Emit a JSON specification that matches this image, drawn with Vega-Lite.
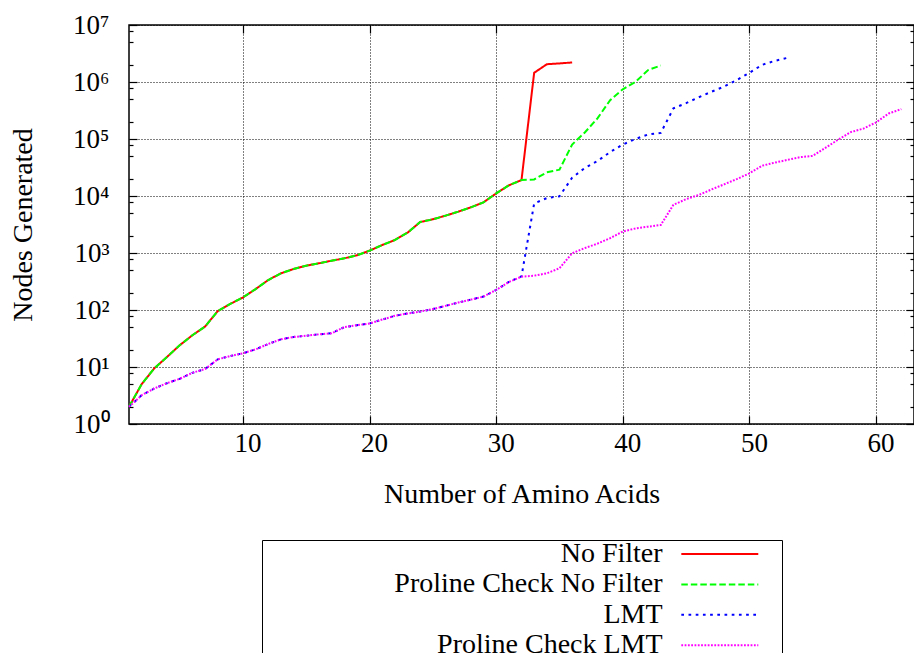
{
  "$schema": "https://vega.github.io/schema/vega-lite/v6.json",
  "width": 785,
  "height": 399,
  "autosize": "none",
  "padding": {"left": 129, "top": 25, "right": 0, "bottom": 229},
  "background": "white",
  "config": {
    "font": "Liberation Serif",
    "view": {"stroke": "black", "strokeWidth": 1.5},
    "axis": {
      "labelFont": "Liberation Serif",
      "titleFont": "Liberation Serif",
      "labelFontSize": 27,
      "titleFontSize": 28,
      "labelColor": "black",
      "titleColor": "black",
      "titleFontWeight": "normal",
      "domain": false,
      "tickColor": "black",
      "tickWidth": 1.2,
      "labelOverlap": false,
      "labelFlush": false
    }
  },
  "data": {
    "values": [
      {"series": "No Filter", "n": 1, "nodes": 2},
      {"series": "No Filter", "n": 2, "nodes": 5},
      {"series": "No Filter", "n": 3, "nodes": 9.5},
      {"series": "No Filter", "n": 4, "nodes": 15},
      {"series": "No Filter", "n": 5, "nodes": 24},
      {"series": "No Filter", "n": 6, "nodes": 36},
      {"series": "No Filter", "n": 7, "nodes": 51},
      {"series": "No Filter", "n": 8, "nodes": 95},
      {"series": "No Filter", "n": 9, "nodes": 128},
      {"series": "No Filter", "n": 10, "nodes": 166},
      {"series": "No Filter", "n": 11, "nodes": 233},
      {"series": "No Filter", "n": 12, "nodes": 336},
      {"series": "No Filter", "n": 13, "nodes": 440},
      {"series": "No Filter", "n": 14, "nodes": 524},
      {"series": "No Filter", "n": 15, "nodes": 600},
      {"series": "No Filter", "n": 16, "nodes": 660},
      {"series": "No Filter", "n": 17, "nodes": 733},
      {"series": "No Filter", "n": 18, "nodes": 806},
      {"series": "No Filter", "n": 19, "nodes": 910},
      {"series": "No Filter", "n": 20, "nodes": 1100},
      {"series": "No Filter", "n": 21, "nodes": 1380},
      {"series": "No Filter", "n": 22, "nodes": 1690},
      {"series": "No Filter", "n": 23, "nodes": 2270},
      {"series": "No Filter", "n": 24, "nodes": 3500},
      {"series": "No Filter", "n": 25, "nodes": 3900},
      {"series": "No Filter", "n": 26, "nodes": 4520},
      {"series": "No Filter", "n": 27, "nodes": 5310},
      {"series": "No Filter", "n": 28, "nodes": 6330},
      {"series": "No Filter", "n": 29, "nodes": 7750},
      {"series": "No Filter", "n": 30, "nodes": 11100},
      {"series": "No Filter", "n": 31, "nodes": 15400},
      {"series": "No Filter", "n": 32, "nodes": 19000},
      {"series": "No Filter", "n": 33, "nodes": 1450000},
      {"series": "No Filter", "n": 34, "nodes": 2050000},
      {"series": "No Filter", "n": 35, "nodes": 2120000},
      {"series": "No Filter", "n": 36, "nodes": 2200000},
      {"series": "Proline Check No Filter", "n": 1, "nodes": 2},
      {"series": "Proline Check No Filter", "n": 2, "nodes": 5},
      {"series": "Proline Check No Filter", "n": 3, "nodes": 9.5},
      {"series": "Proline Check No Filter", "n": 4, "nodes": 15},
      {"series": "Proline Check No Filter", "n": 5, "nodes": 24},
      {"series": "Proline Check No Filter", "n": 6, "nodes": 36},
      {"series": "Proline Check No Filter", "n": 7, "nodes": 51},
      {"series": "Proline Check No Filter", "n": 8, "nodes": 95},
      {"series": "Proline Check No Filter", "n": 9, "nodes": 128},
      {"series": "Proline Check No Filter", "n": 10, "nodes": 166},
      {"series": "Proline Check No Filter", "n": 11, "nodes": 233},
      {"series": "Proline Check No Filter", "n": 12, "nodes": 336},
      {"series": "Proline Check No Filter", "n": 13, "nodes": 440},
      {"series": "Proline Check No Filter", "n": 14, "nodes": 524},
      {"series": "Proline Check No Filter", "n": 15, "nodes": 600},
      {"series": "Proline Check No Filter", "n": 16, "nodes": 660},
      {"series": "Proline Check No Filter", "n": 17, "nodes": 733},
      {"series": "Proline Check No Filter", "n": 18, "nodes": 806},
      {"series": "Proline Check No Filter", "n": 19, "nodes": 910},
      {"series": "Proline Check No Filter", "n": 20, "nodes": 1100},
      {"series": "Proline Check No Filter", "n": 21, "nodes": 1380},
      {"series": "Proline Check No Filter", "n": 22, "nodes": 1690},
      {"series": "Proline Check No Filter", "n": 23, "nodes": 2270},
      {"series": "Proline Check No Filter", "n": 24, "nodes": 3500},
      {"series": "Proline Check No Filter", "n": 25, "nodes": 3900},
      {"series": "Proline Check No Filter", "n": 26, "nodes": 4520},
      {"series": "Proline Check No Filter", "n": 27, "nodes": 5310},
      {"series": "Proline Check No Filter", "n": 28, "nodes": 6330},
      {"series": "Proline Check No Filter", "n": 29, "nodes": 7750},
      {"series": "Proline Check No Filter", "n": 30, "nodes": 11100},
      {"series": "Proline Check No Filter", "n": 31, "nodes": 15400},
      {"series": "Proline Check No Filter", "n": 32, "nodes": 19000},
      {"series": "Proline Check No Filter", "n": 33, "nodes": 19500},
      {"series": "Proline Check No Filter", "n": 34, "nodes": 26000},
      {"series": "Proline Check No Filter", "n": 35, "nodes": 29000},
      {"series": "Proline Check No Filter", "n": 36, "nodes": 80000},
      {"series": "Proline Check No Filter", "n": 37, "nodes": 130000},
      {"series": "Proline Check No Filter", "n": 38, "nodes": 230000},
      {"series": "Proline Check No Filter", "n": 39, "nodes": 480000},
      {"series": "Proline Check No Filter", "n": 40, "nodes": 745000},
      {"series": "Proline Check No Filter", "n": 41, "nodes": 1000000},
      {"series": "Proline Check No Filter", "n": 42, "nodes": 1620000},
      {"series": "Proline Check No Filter", "n": 43, "nodes": 1950000},
      {"series": "LMT", "n": 1, "nodes": 2},
      {"series": "LMT", "n": 2, "nodes": 3.2},
      {"series": "LMT", "n": 3, "nodes": 4.2},
      {"series": "LMT", "n": 4, "nodes": 5.2},
      {"series": "LMT", "n": 5, "nodes": 6.2},
      {"series": "LMT", "n": 6, "nodes": 7.9},
      {"series": "LMT", "n": 7, "nodes": 9.2},
      {"series": "LMT", "n": 8, "nodes": 13.6},
      {"series": "LMT", "n": 9, "nodes": 15.6},
      {"series": "LMT", "n": 10, "nodes": 17.4},
      {"series": "LMT", "n": 11, "nodes": 20.4},
      {"series": "LMT", "n": 12, "nodes": 25.3},
      {"series": "LMT", "n": 13, "nodes": 30.6},
      {"series": "LMT", "n": 14, "nodes": 33.6},
      {"series": "LMT", "n": 15, "nodes": 35.4},
      {"series": "LMT", "n": 16, "nodes": 37.4},
      {"series": "LMT", "n": 17, "nodes": 39},
      {"series": "LMT", "n": 18, "nodes": 50},
      {"series": "LMT", "n": 19, "nodes": 54},
      {"series": "LMT", "n": 20, "nodes": 58},
      {"series": "LMT", "n": 21, "nodes": 68},
      {"series": "LMT", "n": 22, "nodes": 79},
      {"series": "LMT", "n": 23, "nodes": 87},
      {"series": "LMT", "n": 24, "nodes": 94},
      {"series": "LMT", "n": 25, "nodes": 104},
      {"series": "LMT", "n": 26, "nodes": 118},
      {"series": "LMT", "n": 27, "nodes": 135},
      {"series": "LMT", "n": 28, "nodes": 152},
      {"series": "LMT", "n": 29, "nodes": 172},
      {"series": "LMT", "n": 30, "nodes": 225},
      {"series": "LMT", "n": 31, "nodes": 310},
      {"series": "LMT", "n": 32, "nodes": 390},
      {"series": "LMT", "n": 33, "nodes": 7400},
      {"series": "LMT", "n": 34, "nodes": 9200},
      {"series": "LMT", "n": 35, "nodes": 9900},
      {"series": "LMT", "n": 36, "nodes": 21000},
      {"series": "LMT", "n": 37, "nodes": 31000},
      {"series": "LMT", "n": 38, "nodes": 41000},
      {"series": "LMT", "n": 39, "nodes": 59000},
      {"series": "LMT", "n": 40, "nodes": 80000},
      {"series": "LMT", "n": 41, "nodes": 100000},
      {"series": "LMT", "n": 42, "nodes": 120000},
      {"series": "LMT", "n": 43, "nodes": 128000},
      {"series": "LMT", "n": 44, "nodes": 345000},
      {"series": "LMT", "n": 45, "nodes": 425000},
      {"series": "LMT", "n": 46, "nodes": 540000},
      {"series": "LMT", "n": 47, "nodes": 675000},
      {"series": "LMT", "n": 48, "nodes": 830000},
      {"series": "LMT", "n": 49, "nodes": 1080000},
      {"series": "LMT", "n": 50, "nodes": 1450000},
      {"series": "LMT", "n": 51, "nodes": 2000000},
      {"series": "LMT", "n": 52, "nodes": 2350000},
      {"series": "LMT", "n": 53, "nodes": 2650000},
      {"series": "Proline Check LMT", "n": 1, "nodes": 2},
      {"series": "Proline Check LMT", "n": 2, "nodes": 3.2},
      {"series": "Proline Check LMT", "n": 3, "nodes": 4.2},
      {"series": "Proline Check LMT", "n": 4, "nodes": 5.2},
      {"series": "Proline Check LMT", "n": 5, "nodes": 6.2},
      {"series": "Proline Check LMT", "n": 6, "nodes": 7.9},
      {"series": "Proline Check LMT", "n": 7, "nodes": 9.2},
      {"series": "Proline Check LMT", "n": 8, "nodes": 13.6},
      {"series": "Proline Check LMT", "n": 9, "nodes": 15.6},
      {"series": "Proline Check LMT", "n": 10, "nodes": 17.4},
      {"series": "Proline Check LMT", "n": 11, "nodes": 20.4},
      {"series": "Proline Check LMT", "n": 12, "nodes": 25.3},
      {"series": "Proline Check LMT", "n": 13, "nodes": 30.6},
      {"series": "Proline Check LMT", "n": 14, "nodes": 33.6},
      {"series": "Proline Check LMT", "n": 15, "nodes": 35.4},
      {"series": "Proline Check LMT", "n": 16, "nodes": 37.4},
      {"series": "Proline Check LMT", "n": 17, "nodes": 39},
      {"series": "Proline Check LMT", "n": 18, "nodes": 50},
      {"series": "Proline Check LMT", "n": 19, "nodes": 54},
      {"series": "Proline Check LMT", "n": 20, "nodes": 58},
      {"series": "Proline Check LMT", "n": 21, "nodes": 68},
      {"series": "Proline Check LMT", "n": 22, "nodes": 79},
      {"series": "Proline Check LMT", "n": 23, "nodes": 87},
      {"series": "Proline Check LMT", "n": 24, "nodes": 94},
      {"series": "Proline Check LMT", "n": 25, "nodes": 104},
      {"series": "Proline Check LMT", "n": 26, "nodes": 118},
      {"series": "Proline Check LMT", "n": 27, "nodes": 135},
      {"series": "Proline Check LMT", "n": 28, "nodes": 152},
      {"series": "Proline Check LMT", "n": 29, "nodes": 172},
      {"series": "Proline Check LMT", "n": 30, "nodes": 225},
      {"series": "Proline Check LMT", "n": 31, "nodes": 310},
      {"series": "Proline Check LMT", "n": 32, "nodes": 385},
      {"series": "Proline Check LMT", "n": 33, "nodes": 400},
      {"series": "Proline Check LMT", "n": 34, "nodes": 440},
      {"series": "Proline Check LMT", "n": 35, "nodes": 540},
      {"series": "Proline Check LMT", "n": 36, "nodes": 990},
      {"series": "Proline Check LMT", "n": 37, "nodes": 1220},
      {"series": "Proline Check LMT", "n": 38, "nodes": 1460},
      {"series": "Proline Check LMT", "n": 39, "nodes": 1820},
      {"series": "Proline Check LMT", "n": 40, "nodes": 2380},
      {"series": "Proline Check LMT", "n": 41, "nodes": 2700},
      {"series": "Proline Check LMT", "n": 42, "nodes": 2900},
      {"series": "Proline Check LMT", "n": 43, "nodes": 3100},
      {"series": "Proline Check LMT", "n": 44, "nodes": 7000},
      {"series": "Proline Check LMT", "n": 45, "nodes": 8800},
      {"series": "Proline Check LMT", "n": 46, "nodes": 10400},
      {"series": "Proline Check LMT", "n": 47, "nodes": 13000},
      {"series": "Proline Check LMT", "n": 48, "nodes": 16000},
      {"series": "Proline Check LMT", "n": 49, "nodes": 19800},
      {"series": "Proline Check LMT", "n": 50, "nodes": 25000},
      {"series": "Proline Check LMT", "n": 51, "nodes": 34000},
      {"series": "Proline Check LMT", "n": 52, "nodes": 38500},
      {"series": "Proline Check LMT", "n": 53, "nodes": 43000},
      {"series": "Proline Check LMT", "n": 54, "nodes": 48000},
      {"series": "Proline Check LMT", "n": 55, "nodes": 50500},
      {"series": "Proline Check LMT", "n": 56, "nodes": 70000},
      {"series": "Proline Check LMT", "n": 57, "nodes": 97000},
      {"series": "Proline Check LMT", "n": 58, "nodes": 132000},
      {"series": "Proline Check LMT", "n": 59, "nodes": 152000},
      {"series": "Proline Check LMT", "n": 60, "nodes": 195000},
      {"series": "Proline Check LMT", "n": 61, "nodes": 280000},
      {"series": "Proline Check LMT", "n": 62, "nodes": 335000}
    ]
  },
  "layer": [
    {
      "mark": {"type": "line", "strokeWidth": 2},
      "encoding": {
        "x": {
          "field": "n",
          "type": "quantitative",
          "scale": {"domain": [1, 63], "nice": false, "zero": false},
          "axis": {
            "orient": "bottom",
            "values": [10, 20, 30, 40, 50, 60],
            "title": "Number of Amino Acids",
            "grid": true,
            "gridColor": "black",
            "gridDash": [1, 2],
            "gridWidth": 1,
            "gridOpacity": 1,
            "tickSize": -8,
            "labelPadding": 14,
            "labelOffset": 4.5,
            "titlePadding": 24
          }
        },
        "y": {
          "field": "nodes",
          "type": "quantitative",
          "scale": {"type": "log", "domain": [1, 10000000], "nice": false},
          "axis": {
            "orient": "left",
            "values": [1, 2, 5, 8, 10, 20, 50, 80, 100, 200, 500, 800, 1000, 2000, 5000, 8000, 10000, 20000, 50000, 80000, 100000, 200000, 500000, 800000, 1000000, 2000000, 5000000, 8000000, 10000000],
            "title": "Nodes Generated",
            "labelExpr": "abs(log(datum.value)/LN10 - round(log(datum.value)/LN10)) < 0.001 ? '10' + ['⁰','¹','²','³','⁴','⁵','⁶','⁷'][round(log(datum.value)/LN10)] : ''",
            "grid": true,
            "gridColor": "black",
            "gridDash": [1, 2],
            "gridWidth": 1,
            "gridOpacity": {"condition": {"test": "abs(log(datum.value)/LN10 - round(log(datum.value)/LN10)) < 0.001", "value": 1}, "value": 0},
            "tickSize": {"condition": {"test": "abs(log(datum.value)/LN10 - round(log(datum.value)/LN10)) < 0.001", "value": -8}, "value": -4},
            "labelPadding": 28,
            "titlePadding": 35
          }
        },
        "color": {
          "field": "series",
          "type": "nominal",
          "scale": {
            "domain": ["No Filter", "Proline Check No Filter", "LMT", "Proline Check LMT"],
            "range": ["#ff0000", "#00ff00", "#0000ff", "#ff00ff"]
          },
          "legend": {
            "title": null,
            "orient": "none",
            "legendX": 133,
            "legendY": 515,
            "direction": "vertical",
            "symbolType": "M-5,0H5M7.53,0",
            "symbolSize": 237,
            "symbolStrokeWidth": 2,
            "labelFont": "Liberation Serif",
            "labelFontSize": 28,
            "labelColor": "black",
            "labelAlign": "right",
            "labelBaseline": "middle",
            "labelOffset": -71.2,
            "symbolOffset": 443.8,
            "labelLimit": 600,
            "rowPadding": 2.4,
            "padding": 0,
            "strokeColor": "black",
            "fillColor": "white"
          }
        },
        "strokeDash": {
          "field": "series",
          "type": "nominal",
          "scale": {
            "domain": ["No Filter", "Proline Check No Filter", "LMT", "Proline Check LMT"],
            "range": [[1, 0], [6.5, 3], [2.7, 4.5], [1.8, 1.5]]
          },
          "legend": {
            "title": null,
            "orient": "none",
            "legendX": 133,
            "legendY": 515,
            "direction": "vertical",
            "symbolType": "M-5,0H5M7.53,0",
            "symbolSize": 237,
            "symbolStrokeWidth": 2,
            "labelFont": "Liberation Serif",
            "labelFontSize": 28,
            "labelColor": "black",
            "labelAlign": "right",
            "labelBaseline": "middle",
            "labelOffset": -71.2,
            "symbolOffset": 443.8,
            "labelLimit": 600,
            "rowPadding": 2.4,
            "padding": 0,
            "strokeColor": "black",
            "fillColor": "white"
          }
        }
      }
    },
    {
      "mark": {"type": "point", "opacity": 0},
      "encoding": {
        "x": {
          "field": "n",
          "type": "quantitative",
          "axis": {
            "orient": "top",
            "values": [10, 20, 30, 40, 50, 60],
            "labels": false,
            "title": null,
            "grid": false,
            "tickSize": -8
          }
        },
        "y": {
          "field": "nodes",
          "type": "quantitative",
          "scale": {"type": "log"},
          "axis": {
            "orient": "right",
            "values": [1, 2, 5, 8, 10, 20, 50, 80, 100, 200, 500, 800, 1000, 2000, 5000, 8000, 10000, 20000, 50000, 80000, 100000, 200000, 500000, 800000, 1000000, 2000000, 5000000, 8000000, 10000000],
            "labels": false,
            "title": null,
            "grid": false,
            "tickSize": {"condition": {"test": "abs(log(datum.value)/LN10 - round(log(datum.value)/LN10)) < 0.001", "value": -8}, "value": -4}
          }
        }
      }
    }
  ],
  "resolve": {"axis": {"x": "independent", "y": "independent"}}
}
